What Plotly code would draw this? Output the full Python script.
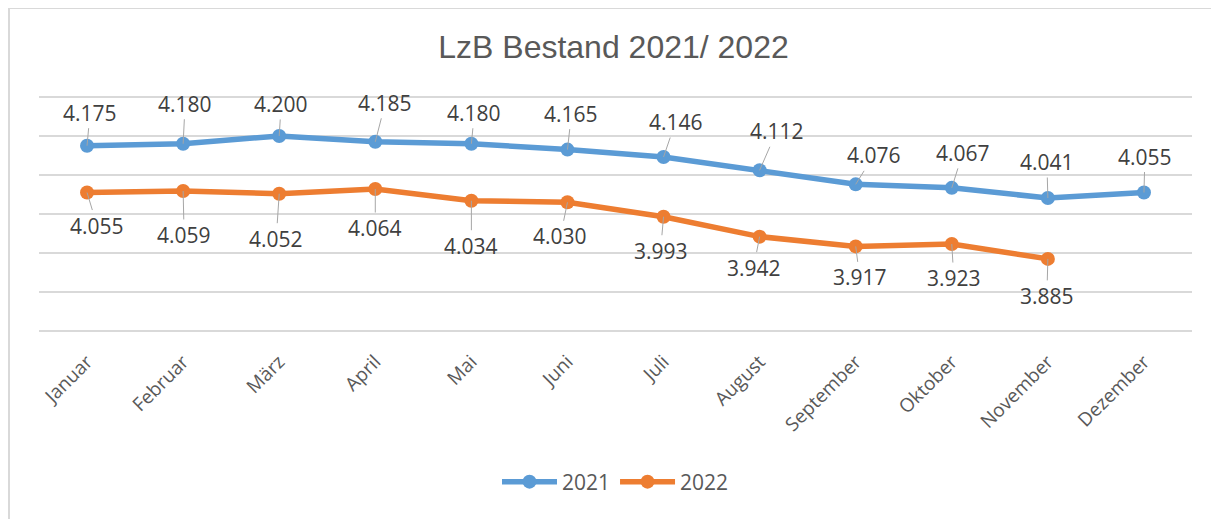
import plotly.graph_objects as go

months = ["Januar", "Februar", "März", "April", "Mai", "Juni", "Juli",
          "August", "September", "Oktober", "November", "Dezember"]
values_2021 = [4175, 4180, 4200, 4185, 4180, 4165, 4146, 4112, 4076, 4067, 4041, 4055]
values_2022 = [4055, 4059, 4052, 4064, 4034, 4030, 3993, 3942, 3917, 3923, 3885]

# label offsets (pixels) for the callout-style data labels
off_2021 = [(3, -33), (2, -40), (2, -32), (10, -39), (3, -31), (4, -36), (12, -35),
            (17, -39), (18, -29), (11, -35), (-1, -36), (1, -36)]
off_2022 = [(10, 33), (1, 44), (-3, 45), (0, 39), (0, 45), (-7, 34), (-3, 34),
            (-6, 31), (4, 31), (2, 34), (-1, 37)]

C21 = "#5B9BD5"
C22 = "#ED7D31"
FONT = "Open Sans"

# page body has an 8px margin; figure laid out in its own coordinates
W, H = 1211, 511
ML, MR, MT, MB = 31, 27, 85, 184
PLOT_H = H - MT - MB
PLOT_W = W - ML - MR


def py(px):
    """figure pixel row -> paper y"""
    return (H - MB - px) / PLOT_H


def pxp(px):
    """figure pixel column -> paper x"""
    return (px - ML) / PLOT_W


def fmt(v):
    return f"{v:,}".replace(",", ".")


fig = go.Figure()
fig.add_trace(go.Scatter(x=months, y=values_2021, name="2021", mode="lines+markers",
                         line=dict(color=C21, width=5.5), marker=dict(size=14, color=C21)))
fig.add_trace(go.Scatter(x=months[:len(values_2022)], y=values_2022, name="2022",
                         mode="lines+markers",
                         line=dict(color=C22, width=5.5), marker=dict(size=14, color=C22)))

annotations = []
for series, offs in ((values_2021, off_2021), (values_2022, off_2022)):
    for m, v, (dx, dy) in zip(months, series, offs):
        annotations.append(dict(
            x=m, y=v, xref="x", yref="y", text=fmt(v), showarrow=True,
            ax=dx, ay=dy, arrowhead=0, arrowwidth=1, arrowcolor="#A6A6A6",
            standoff=0, startstandoff=0,
            font=dict(family=FONT, size=21, color="#404040")))

fig.update_layout(
    width=W, height=H,
    paper_bgcolor="white", plot_bgcolor="white",
    margin=dict(l=ML, r=MR, t=MT, b=MB, autoexpand=False),
    title=dict(text="LzB Bestand 2021/ 2022", x=0.5, xanchor="center",
               y=1 - 39 / H, yanchor="middle", yref="container",
               font=dict(family="Liberation Sans", size=32, color="#595959")),
    showlegend=True,
    legend=dict(orientation="h", x=0.5, xanchor="center", y=py(474), yanchor="middle",
                font=dict(family=FONT, size=21, color="#595959"),
                itemwidth=55, tracegroupgap=0),
    annotations=annotations,
    xaxis=dict(range=[-0.5, len(months) - 0.5], showgrid=False, showline=False,
               zeroline=False, tickangle=-45,
               tickfont=dict(family=FONT, size=19, color="#595959"),
               ticks="", ticklabelstandoff=11, automargin=False),
    yaxis=dict(range=[3690, 4310], dtick=100, tick0=3700, showticklabels=False,
               showgrid=True, gridcolor="#D9D9D9", gridwidth=1.5, zeroline=False,
               showline=False, automargin=False),
    shapes=[dict(type="rect", xref="paper", yref="paper",
                 x0=pxp(1), x1=pxp(W + 30),
                 y0=py(H + 30), y1=py(0),
                 line=dict(color="#D9D9D9", width=2), layer="below")],
)

fig.write_html("out.html")
